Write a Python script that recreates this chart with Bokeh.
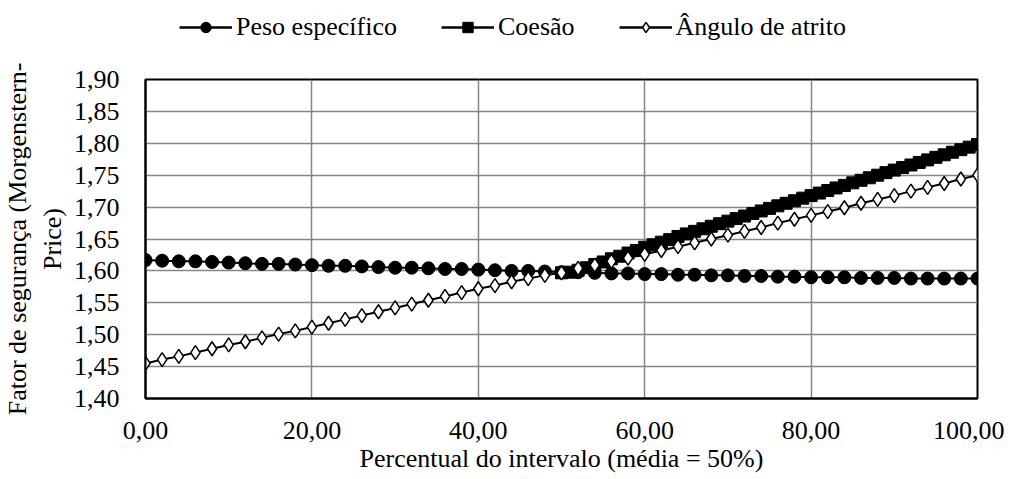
from bokeh.plotting import figure
from bokeh.layouts import column
from bokeh.models import Legend, LegendItem, CustomJSTickFormatter, FixedTicker, Range1d
from bokeh.embed import file_html
from bokeh.resources import INLINE

# ---- data ----
x_even = [0, 2, 4, 6, 8, 10, 12, 14, 16, 18, 20, 22, 24, 26, 28, 30, 32, 34, 36, 38, 40,
          42, 44, 46, 48, 50, 52, 54, 56, 58, 60, 62, 64, 66, 68, 70, 72, 74, 76, 78, 80,
          82, 84, 86, 88, 90, 92, 94, 96, 98, 100]
peso = [1.617, 1.616, 1.615, 1.615, 1.614, 1.613, 1.612, 1.611, 1.611, 1.610, 1.609,
        1.608, 1.608, 1.607, 1.606, 1.605, 1.605, 1.604, 1.603, 1.603, 1.602,
        1.601, 1.600, 1.600, 1.599, 1.598, 1.598, 1.597, 1.596, 1.596, 1.595,
        1.595, 1.594, 1.594, 1.593, 1.593, 1.592, 1.592, 1.591, 1.591, 1.590,
        1.590, 1.590, 1.589, 1.589, 1.589, 1.588, 1.588, 1.588, 1.588, 1.588]
angulo = [1.455, 1.461, 1.466, 1.472, 1.478, 1.484, 1.489, 1.495, 1.501, 1.506, 1.512,
          1.518, 1.524, 1.530, 1.536, 1.542, 1.548, 1.554, 1.560, 1.566, 1.572,
          1.577, 1.583, 1.588, 1.593, 1.597, 1.604, 1.609, 1.615, 1.620, 1.626,
          1.632, 1.638, 1.644, 1.650, 1.656, 1.662, 1.668, 1.675, 1.681, 1.687,
          1.693, 1.699, 1.706, 1.712, 1.718, 1.725, 1.731, 1.737, 1.744, 1.750]
x_coesao = [50, 51, 52, 53, 54, 55, 56, 57, 58, 59, 60, 61, 62, 63, 64, 65, 66, 67, 68, 69,
            70, 71, 72, 73, 74, 75, 76, 77, 78, 79, 80, 81, 82, 83, 84, 85, 86, 87, 88, 89,
            90, 91, 92, 93, 94, 95, 96, 97, 98, 99, 100]
coesao = [1.597, 1.598, 1.601, 1.605, 1.610, 1.614, 1.619, 1.623, 1.628, 1.632,
          1.637, 1.641, 1.645, 1.649, 1.654, 1.658, 1.662, 1.666, 1.670, 1.674,
          1.678, 1.682, 1.686, 1.690, 1.694, 1.698, 1.702, 1.706, 1.710, 1.714,
          1.718, 1.722, 1.726, 1.730, 1.734, 1.738, 1.742, 1.746, 1.750, 1.754,
          1.758, 1.762, 1.766, 1.770, 1.774, 1.778, 1.782, 1.786, 1.790, 1.794, 1.798]
x_ticks = [0, 20, 40, 60, 80, 100]
y_ticks = [1.40, 1.45, 1.50, 1.55, 1.60, 1.65, 1.70, 1.75, 1.80, 1.85, 1.90]
names = ["Peso específico", "Coesão", "Ângulo de atrito"]

FONT = "Liberation Serif"
FS = "26px"

p = figure(width=1004, height=429, output_backend="svg", toolbar_location=None,
           x_range=Range1d(0, 100), y_range=Range1d(1.40, 1.90),
           min_border_left=143, min_border_right=27, min_border_top=29, min_border_bottom=81)
p.background_fill_color = "white"
p.border_fill_color = "white"
p.outline_line_color = "black"
p.outline_line_width = 2

fmt = CustomJSTickFormatter(code="return tick.toFixed(2).replace('.', ',');")
for ax, ticks in ((p.xaxis[0], x_ticks), (p.yaxis[0], y_ticks)):
    ax.ticker = FixedTicker(ticks=ticks)
    ax.formatter = fmt
    ax.major_tick_line_color = None
    ax.minor_tick_line_color = None
    ax.axis_line_color = "black"
    ax.axis_line_width = 2
    ax.major_label_text_font = FONT
    ax.major_label_text_font_size = FS
    ax.major_label_text_color = "black"
    ax.axis_label_text_font = FONT
    ax.axis_label_text_font_size = FS
    ax.axis_label_text_font_style = "normal"
    ax.axis_label_text_color = "black"

p.xaxis.major_label_standoff = 17
p.yaxis.major_label_standoff = 20
p.xaxis.axis_label = "Percentual do intervalo (média = 50%)"
p.yaxis.axis_label = "Fator de segurança (Morgenstern-\nPrice)"
p.xaxis.axis_label_standoff = 2
p.yaxis.axis_label_standoff = 4

p.xgrid.grid_line_color = "#868686"
p.ygrid.grid_line_color = "#868686"
p.xgrid.grid_line_width = 1.5
p.ygrid.grid_line_width = 1.5
p.xgrid.ticker = FixedTicker(ticks=x_ticks)
p.ygrid.ticker = FixedTicker(ticks=y_ticks)

p.line(x_even, peso, line_color="black", line_width=2)
p.scatter(x_even, peso, marker="circle", size=13, fill_color="black", line_color="black")
p.line(x_coesao, coesao, line_color="black", line_width=2)
p.scatter(x_coesao, coesao, marker="square", size=12, fill_color="black", line_color="black")
p.line(x_even, angulo, line_color="black", line_width=2)
p.scatter(x_even, angulo, marker="diamond", size=14, fill_color="white", line_color="black",
          line_width=1.5)

# ---- legend strip above the chart (series drawn off-range, only legend glyphs show) ----
lf = figure(width=1004, height=50, output_backend="svg", toolbar_location=None,
            x_range=Range1d(0, 100), y_range=Range1d(0, 0.5),
            min_border_left=0, min_border_right=0, min_border_top=0, min_border_bottom=0)
lf.axis.visible = False
lf.grid.visible = False
lf.outline_line_color = None
lf.background_fill_color = "white"
lf.border_fill_color = "white"
k1 = lf.line(x_even, peso, line_color="black", line_width=2.5)
s1 = lf.scatter(x_even, peso, marker="circle", size=11, fill_color="black", line_color="black")
k2 = lf.line(x_coesao, coesao, line_color="black", line_width=2.5)
s2 = lf.scatter(x_coesao, coesao, marker="square", size=11, fill_color="black", line_color="black")
k3 = lf.line(x_even, angulo, line_color="black", line_width=2.5)
s3 = lf.scatter(x_even, angulo, marker="diamond", size=13, fill_color="white", line_color="black",
                line_width=1.5)

legend = Legend(items=[LegendItem(label=names[0], renderers=[k1, s1]),
                       LegendItem(label=names[1], renderers=[k2, s2]),
                       LegendItem(label=names[2], renderers=[k3, s3])],
                orientation="horizontal", location=(34, 8),
                label_text_font=FONT, label_text_font_size=FS,
                label_text_color="black", glyph_width=53, glyph_height=26,
                label_standoff=4, spacing=44, padding=0, margin=0,
                border_line_color=None, background_fill_alpha=0)
lf.add_layout(legend, "center")

layout = column(lf, p, spacing=0)
open("out.html", "w").write(file_html(layout, INLINE))
